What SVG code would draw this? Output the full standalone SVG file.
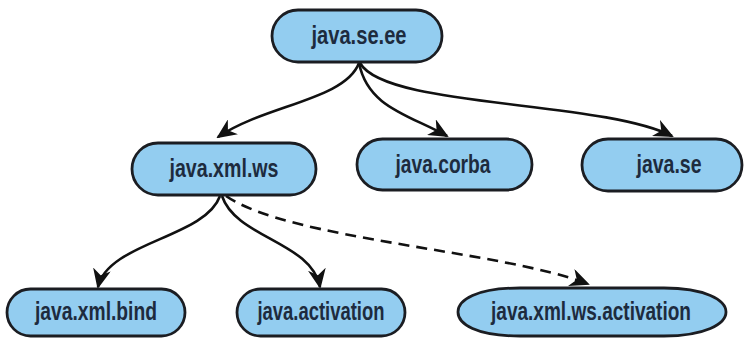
<svg xmlns="http://www.w3.org/2000/svg" width="748" height="339" viewBox="0 0 748 339">
<defs>
<style>
.n{fill:#93cdf0;stroke:#1b1d22;stroke-width:2.8}
.t{font-family:"Liberation Sans",Arial,sans-serif;font-weight:bold;font-size:25px;fill:#1d2b3e;text-anchor:middle}
.e{fill:none;stroke:#111;stroke-width:2.6}
.d{stroke-dasharray:11 7}
</style>
<marker id="ah" viewBox="0 0 20 18" refX="18" refY="9" markerWidth="20" markerHeight="18" markerUnits="userSpaceOnUse" orient="auto">
<path d="M0,0 L20,9 L0,18 L6,9 Z" fill="#111"/>
</marker>
</defs>
<g id="connectors">
<path class="e" d="M359,63 C345,100 265,105 218,137" marker-end="url(#ah)"/>
<path class="e" d="M359,63 C368,108 410,115 447,136" marker-end="url(#ah)"/>
<path class="e" d="M360,63 C385,108 600,100 672,136" marker-end="url(#ah)"/>
<path class="e" d="M220,196 C205,238 108,242 98,287" marker-end="url(#ah)"/>
<path class="e" d="M222,196 C236,238 312,242 320,287" marker-end="url(#ah)"/>
<path class="e d" d="M226,196 C290,240 500,250 588,284" marker-end="url(#ah)"/>
</g>
<g id="java.se.ee"><rect class="n" x="272" y="10" width="170" height="52" rx="26"/><text class="t" x="359" y="44" textLength="95" lengthAdjust="spacingAndGlyphs">java.se.ee</text></g>
<g id="java.xml.ws"><rect class="n" x="132" y="143" width="184" height="52" rx="26"/><text class="t" x="224" y="177" textLength="109" lengthAdjust="spacingAndGlyphs">java.xml.ws</text></g>
<g id="java.corba"><rect class="n" x="357" y="139" width="175" height="51" rx="25.5"/><text class="t" x="443" y="172.5" textLength="95" lengthAdjust="spacingAndGlyphs">java.corba</text></g>
<g id="java.se"><rect class="n" x="582" y="139" width="160" height="52" rx="26"/><text class="t" x="669" y="173" textLength="65" lengthAdjust="spacingAndGlyphs">java.se</text></g>
<g id="java.xml.bind"><rect class="n" x="7" y="289" width="178" height="47" rx="23.5"/><text class="t" x="96" y="320" textLength="122" lengthAdjust="spacingAndGlyphs">java.xml.bind</text></g>
<g id="java.activation"><rect class="n" x="237" y="289" width="168" height="47" rx="23.5"/><text class="t" x="321" y="320" textLength="127" lengthAdjust="spacingAndGlyphs">java.activation</text></g>
<g id="java.xml.ws.activation"><path class="n" d="M520,288 L664,288 C705,288 726,300 726,312 C726,324 705,336 664,336 L520,336 C476,336 458,324 458,312 C458,300 476,288 520,288 Z"/><text class="t" x="591" y="320" textLength="200" lengthAdjust="spacingAndGlyphs">java.xml.ws.activation</text></g>
</svg>
